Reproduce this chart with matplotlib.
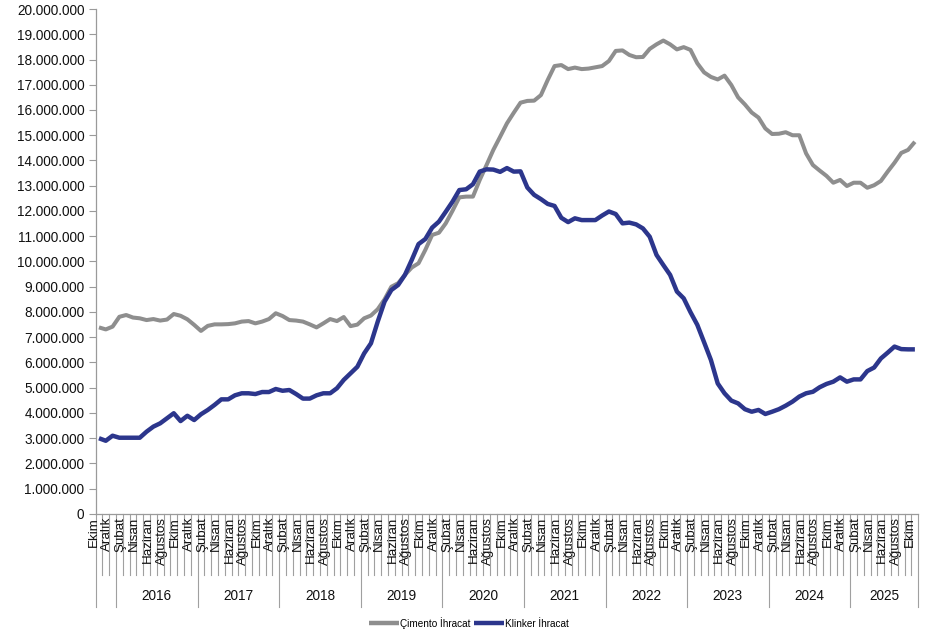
import matplotlib
matplotlib.use("Agg")
import matplotlib.pyplot as plt
from matplotlib.ticker import FixedLocator, FuncFormatter
import matplotlib.transforms as mtransforms

plt.rcParams['font.family'] = ['Liberation Sans', 'DejaVu Sans']

# Monthly series, Ekim 2015 - Ekim 2025 (121 months)
start_year = 2015
start_month = 10  # Ekim
months_tr = ["Ocak", "Şubat", "Mart", "Nisan", "Mayıs", "Haziran", "Temmuz",
             "Ağustos", "Eylül", "Ekim", "Kasım", "Aralık"]

cimento = [
    7.39, 7.31, 7.42,
    7.81, 7.88, 7.78, 7.75, 7.68, 7.72, 7.66, 7.70, 7.92, 7.85, 7.71, 7.49,
    7.25, 7.45, 7.51, 7.51, 7.52, 7.55, 7.62, 7.64, 7.55, 7.62, 7.72, 7.95,
    7.84, 7.68, 7.66, 7.62, 7.51, 7.39, 7.55, 7.72, 7.64, 7.80, 7.44, 7.50,
    7.75, 7.86, 8.11, 8.50, 9.00, 9.14, 9.47, 9.76, 9.93, 10.46, 11.05, 11.14,
    11.51, 12.01, 12.54, 12.57, 12.57, 13.23, 13.82, 14.42, 14.94, 15.47, 15.89, 16.29,
    16.36, 16.37, 16.59, 17.19, 17.74, 17.78, 17.62, 17.68, 17.62, 17.64, 17.69, 17.74,
    17.94, 18.34, 18.36, 18.18, 18.09, 18.10, 18.42, 18.60, 18.75, 18.60, 18.40, 18.49,
    18.38, 17.85, 17.49, 17.31, 17.21, 17.36, 16.99, 16.50, 16.22, 15.90, 15.70, 15.27,
    15.05, 15.06, 15.12, 15.00, 15.00, 14.28, 13.82, 13.60, 13.39, 13.12, 13.23, 12.99,
    13.12, 13.12, 12.92, 13.02, 13.19, 13.56, 13.91, 14.30, 14.42, 14.74,
]

klinker = [
    3.00, 2.90, 3.10,
    3.02, 3.02, 3.02, 3.02, 3.26, 3.46, 3.59, 3.79, 3.99, 3.68, 3.89, 3.72,
    3.95, 4.12, 4.32, 4.54, 4.54, 4.70, 4.78, 4.78, 4.75, 4.83, 4.83, 4.95,
    4.88, 4.91, 4.75, 4.57, 4.57, 4.70, 4.78, 4.78, 4.98, 5.31, 5.57, 5.83,
    6.36, 6.76, 7.62, 8.41, 8.87, 9.07, 9.47, 10.06, 10.69, 10.89, 11.34, 11.58,
    11.97, 12.37, 12.83, 12.86, 13.06, 13.56, 13.65, 13.64, 13.55, 13.70, 13.56, 13.57,
    12.93, 12.64, 12.47, 12.28, 12.20, 11.73, 11.56, 11.71, 11.64, 11.64, 11.64, 11.82,
    11.98, 11.88, 11.51, 11.54, 11.47, 11.31, 10.98, 10.26, 9.86, 9.47, 8.81, 8.54,
    7.99, 7.49, 6.80, 6.10, 5.17, 4.78, 4.49, 4.38, 4.15, 4.05, 4.12, 3.96,
    4.05, 4.15, 4.29, 4.45, 4.65, 4.78, 4.84, 5.02, 5.15, 5.24, 5.41, 5.24,
    5.33, 5.33, 5.66, 5.80, 6.16, 6.39, 6.63, 6.53, 6.52, 6.52,
]

scale = 1_000_000
cim = [v * scale for v in cimento]
kli = [v * scale for v in klinker]
n = len(cim)

# build category info
years = []
month_idx = []
for i in range(n):
    m = start_month - 1 + i
    years.append(start_year + m // 12)
    month_idx.append(m % 12)

fig = plt.figure(figsize=(9.27, 6.34), dpi=100)
ax = fig.add_axes([0.1031, 0.1893, 0.8875, 0.7965])

x = list(range(n))
gray = "#8e8e8e"
blue = "#2c368c"
ax.plot(x, cim, color=gray, lw=2.9, solid_joinstyle='round', solid_capstyle='butt',
        label="Çimento İhracat", zorder=3)
ax.plot(x, kli, color=blue, lw=3.2, solid_joinstyle='round', solid_capstyle='butt',
        label="Klinker İhracat", zorder=4)

ax.set_xlim(-0.5, n - 0.5)
ax.set_ylim(0, 20_000_000)
ax.yaxis.set_major_locator(FixedLocator([k * scale for k in range(21)]))
ax.yaxis.set_major_formatter(FuncFormatter(lambda v, p: f"{v:,.0f}".replace(",", ".")))
ax.tick_params(axis='y', direction='out', length=5, width=0.8, color="#9a9a9a",
               labelsize=9.8, labelcolor="#111111", pad=3)
ax.set_xticks([])

for s in ['top', 'right']:
    ax.spines[s].set_visible(False)
ax.spines['left'].set_color("#9a9a9a")
ax.spines['bottom'].set_color("#9a9a9a")
ax.spines['left'].set_linewidth(0.9)
ax.spines['bottom'].set_linewidth(0.9)

trans = mtransforms.blended_transform_factory(ax.transData, ax.transAxes)
line_c = "#a0a0a0"

# month separators (every category boundary)
for i in range(n + 1):
    b = i - 0.5
    is_year = (i == 0) or (i == n) or (month_idx[i] == 0 if i < n else False)
    bottom = -0.184 if is_year else -0.121
    ax.plot([b, b], [0, bottom], transform=trans, color=line_c, lw=0.8,
            clip_on=False, zorder=1)

# month labels every second category
for i in range(0, n, 2):
    ax.text(i - 0.8, -0.006, months_tr[month_idx[i]], transform=trans,
            rotation=90, ha='center', va='top', fontsize=9.6, color="#111111")

# year labels
yrs = sorted(set(years))
for y in yrs:
    idx = [i for i in range(n) if years[i] == y]
    if len(idx) < 6:
        continue
    c = (idx[0] + idx[-1]) / 2
    ax.text(c, -0.162, str(y), transform=trans, ha='center', va='center',
            fontsize=9.8, color="#111111")

leg = fig.legend(loc='center', bbox_to_anchor=(0.506, 0.0174), ncol=2, frameon=False,
                 fontsize=7.2, handlelength=3.0, handletextpad=0.15, columnspacing=0.3,
                 borderaxespad=0)
for h in leg.get_lines():
    h.set_linewidth(3.2)

fig.savefig("out.png", dpi=100)
